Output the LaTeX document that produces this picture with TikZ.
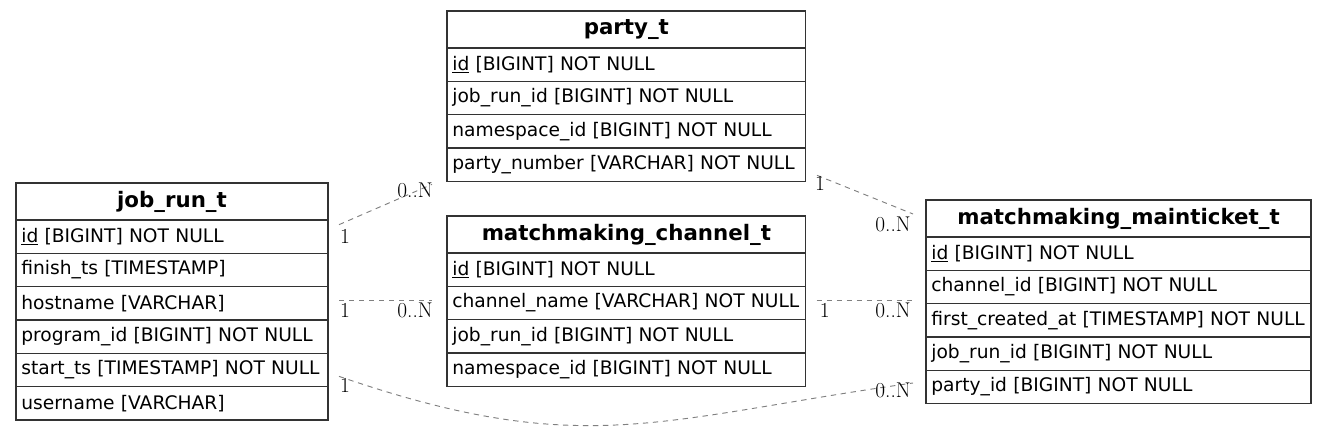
\documentclass[tikz,border=0pt]{standalone}
\usepackage{fontspec}
\usepackage{tikz}
\usetikzlibrary{positioning}
\newfontfamily\tablefont{DejaVu Sans}
\tikzstyle{tablehead} = [rectangle, draw=black!80, line width=0.9pt, outer sep=0pt, inner sep=0pt, minimum height=27.75pt, text centered, font=\tablefont\fontsize{16}{18}\selectfont\bfseries]
\tikzstyle{field} = [rectangle, draw=black!80, line width=0.9pt, outer sep=0pt, inner xsep=4pt, inner ysep=0pt, minimum height=25pt, align=left, font=\tablefont\fontsize{14}{16}\selectfont]
\tikzstyle{rel} = [gray, line width=0.7pt, dash pattern=on 4pt off 3.5pt]
\tikzstyle{card} = [inner sep=0pt, text=black, font=\fontsize{16}{18}\selectfont]

\begin{document}
\begin{tikzpicture}[x=0.75pt, y=0.75pt]
\useasboundingbox (0,0) rectangle (1327,-432);

% job_run_t
\node (jr) [tablehead, minimum width=234pt, anchor=north west] at (16,-183) {job\_run\_t};
\node (jr1) [field, text width=226pt, below=0pt of jr] {\underline{id} [BIGINT] NOT NULL};
\node (jr2) [field, text width=226pt, below=0pt of jr1] {finish\_ts [TIMESTAMP]};
\node (jr3) [field, text width=226pt, below=0pt of jr2] {hostname [VARCHAR]};
\node (jr4) [field, text width=226pt, below=0pt of jr3] {program\_id [BIGINT] NOT NULL};
\node (jr5) [field, text width=226pt, below=0pt of jr4] {start\_ts [TIMESTAMP] NOT NULL};
\node (jr6) [field, text width=226pt, below=0pt of jr5] {username [VARCHAR]};

% party_t
\node (pt) [tablehead, minimum width=269pt, anchor=north west] at (447,-11) {party\_t};
\node (pt1) [field, text width=261pt, below=0pt of pt] {\underline{id} [BIGINT] NOT NULL};
\node (pt2) [field, text width=261pt, below=0pt of pt1] {job\_run\_id [BIGINT] NOT NULL};
\node (pt3) [field, text width=261pt, below=0pt of pt2] {namespace\_id [BIGINT] NOT NULL};
\node (pt4) [field, text width=261pt, below=0pt of pt3] {party\_number [VARCHAR] NOT NULL};

% matchmaking_channel_t
\node (ch) [tablehead, minimum width=269pt, anchor=north west] at (447,-216) {matchmaking\_channel\_t};
\node (ch1) [field, text width=261pt, below=0pt of ch] {\underline{id} [BIGINT] NOT NULL};
\node (ch2) [field, text width=261pt, below=0pt of ch1] {channel\_name [VARCHAR] NOT NULL};
\node (ch3) [field, text width=261pt, below=0pt of ch2] {job\_run\_id [BIGINT] NOT NULL};
\node (ch4) [field, text width=261pt, below=0pt of ch3] {namespace\_id [BIGINT] NOT NULL};

% matchmaking_mainticket_t
\node (mt) [tablehead, minimum width=288.75pt, anchor=north west] at (926,-200) {matchmaking\_mainticket\_t};
\node (mt1) [field, text width=280.75pt, below=0pt of mt] {\underline{id} [BIGINT] NOT NULL};
\node (mt2) [field, text width=280.75pt, below=0pt of mt1] {channel\_id [BIGINT] NOT NULL};
\node (mt3) [field, text width=280.75pt, below=0pt of mt2] {first\_created\_at [TIMESTAMP] NOT NULL};
\node (mt4) [field, text width=280.75pt, below=0pt of mt3] {job\_run\_id [BIGINT] NOT NULL};
\node (mt5) [field, text width=280.75pt, below=0pt of mt4] {party\_id [BIGINT] NOT NULL};

% relations
\draw [rel] ([shift={(8.25pt,9pt)}]jr1.east) -- node (r1t) [card, pos=0, xshift=4.5pt, yshift=-9pt] {1} node (r1h) [card, pos=1, xshift=-12.75pt, yshift=-4.5pt] {0..N} ([shift={(-11.25pt,-2.25pt)}]pt4.south west);
\draw [rel] ([shift={(8.25pt,2.25pt)}]jr3.east) -- node (r2t) [card, pos=0, xshift=4.5pt, yshift=-7.5pt] {1} node (r2h) [card, pos=1, xshift=-12.75pt, yshift=-7.5pt] {0..N} ([shift={(-11.25pt,2pt)}]ch2.west);
\draw [rel] ([shift={(8.25pt,-4.75pt)}]jr5.east) to[out=-19, in=188, looseness=1.15] node (r3t) [card, pos=0, xshift=4.5pt, yshift=-6.75pt] {1} node (r3h) [card, pos=1, xshift=-15pt, yshift=-5.25pt] {0..N} ([shift={(-9.75pt,3pt)}]mt5.west);
\draw [rel] ([shift={(8.5pt,4.5pt)}]pt4.south east) -- node (r4t) [card, pos=0, xshift=2.25pt, yshift=-6pt] {1} node (r4h) [card, pos=1, xshift=-15pt, yshift=-7.5pt] {0..N} ([shift={(-9.75pt,-10.5pt)}]mt.north west);
\draw [rel] ([shift={(8.25pt,2pt)}]ch2.east) -- node (r5t) [card, pos=0, xshift=6pt, yshift=-7.5pt] {1} node (r5h) [card, pos=1, xshift=-15pt, yshift=-7.5pt] {0..N} ([shift={(-9.75pt,2.5pt)}]mt2.south west);

\end{tikzpicture}
\end{document}
